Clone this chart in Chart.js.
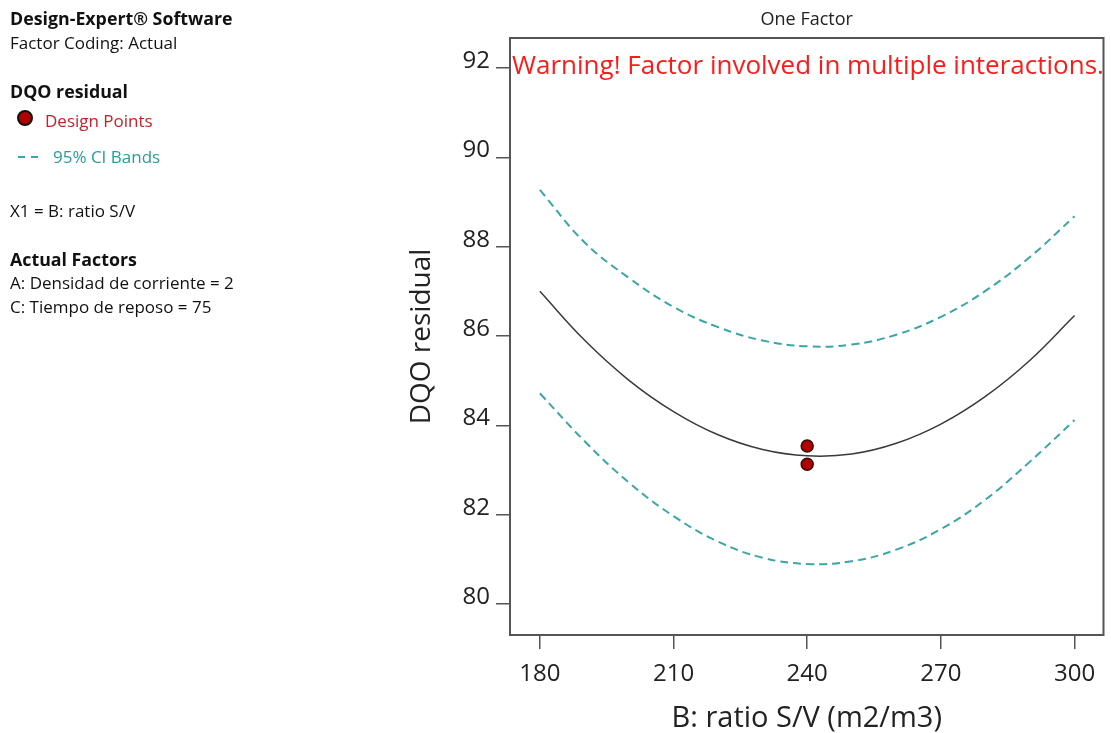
<!DOCTYPE html>
<html>
<head>
<meta charset="utf-8">
<script src="https://cdn.jsdelivr.net/npm/chart.js@4.4.1/dist/chart.umd.min.js"></script>
<style>
  body { margin: 0; background: #fff; font-family: "Open Sans", "Noto Sans", sans-serif; }
  #wrap { position: relative; width: 1111px; height: 733px; }
  #side { position: absolute; left: 10px; top: 0; font-size: 17px; color: #111; }
  #side div { position: absolute; white-space: nowrap; line-height: 20px; }
  .b { font-weight: bold; font-size: 17.8px; }
  .dot { display: inline-block; width: 12px; height: 12px; border-radius: 50%;
         background: #b00000; border: 2px solid #111; }
  .dash { display: inline-block; width: 7px; height: 2px; background: #3aa6a6; margin-right: 6px; vertical-align: middle; }
</style>
</head>
<body>
<div id="wrap">
  <canvas id="chart" width="1111" height="733"></canvas>
  <div id="side">
    <div class="b" style="top:8px">Design-Expert® Software</div>
    <div style="top:33px">Factor Coding: Actual</div>
    <div class="b" style="top:81px">DQO residual</div>
    <div style="top:110px; left:7px"><span class="dot"></span></div>
    <div style="top:111px; left:35px; color:#c8202a">Design Points</div>
    <div style="top:146px; left:8px"><span class="dash"></span><span class="dash"></span></div>
    <div style="top:147px; left:43px; color:#2a9a9a">95% CI Bands</div>
    <div style="top:201px">X1 = B: ratio S/V</div>
    <div class="b" style="top:249px">Actual Factors</div>
    <div style="top:273px">A: Densidad de corriente = 2</div>
    <div style="top:297px">C: Tiempo de reposo = 75</div>
  </div>
</div>
<script>
// valores
const ratioSV = [180, 190, 200, 210, 220, 230, 240, 250, 260, 270, 280, 290, 300];
const dqoFit = [87.00, 85.91, 85.01, 84.31, 83.79, 83.46, 83.32, 83.36, 83.60, 84.03, 84.65, 85.46, 86.46];
const ciUpper = [89.27, 88.10, 87.30, 86.65, 86.20, 85.90, 85.77, 85.81, 86.03, 86.43, 87.01, 87.77, 88.68];
const ciLower = [84.72, 83.65, 82.72, 81.97, 81.40, 81.04, 80.90, 80.96, 81.22, 81.68, 82.34, 83.19, 84.12];
const designX = [240, 240];
const designY = [83.54, 83.13];
const xTicks = [180, 210, 240, 270, 300];
const yTicks = [80, 82, 84, 86, 88, 90, 92];

const pts = (xs, ys) => xs.map((x, i) => ({ x: x, y: ys[i] }));
const teal = "#3aa6a6";
const font = "'Open Sans', 'Noto Sans', sans-serif";

// texto del titulo, aviso y marco
const extras = {
  id: "extras",
  afterDraw(chart) {
    const { ctx, chartArea: a } = chart;
    ctx.save();
    ctx.strokeStyle = "#555";
    ctx.lineWidth = 2;
    ctx.strokeRect(a.left, a.top, a.right - a.left, a.bottom - a.top);
    ctx.fillStyle = "#222";
    ctx.font = "18px " + font;
    ctx.textAlign = "center";
    ctx.textBaseline = "middle";
    ctx.fillText("One Factor", (a.left + a.right) / 2, 20);
    ctx.fillStyle = "#ff1a1a";
    ctx.font = "26px " + font;
    ctx.textAlign = "left";
    ctx.fillText("Warning! Factor involved in multiple interactions.", a.left + 2, 67);
    ctx.restore();
  },
};

new Chart(document.getElementById("chart"), {
  type: "line",
  data: {
    datasets: [
      {
        label: "Design Points",
        type: "scatter",
        data: pts(designX, designY),
        pointRadius: 6,
        pointBackgroundColor: "#b00000",
        pointBorderColor: "#3a0a0a",
        pointBorderWidth: 1.5,
      },
      {
        label: "DQO residual",
        data: pts(ratioSV, dqoFit),
        borderColor: "#3a3a3a",
        borderWidth: 1.5,
        pointRadius: 0,
        tension: 0.4,
      },
      {
        label: "95% CI high",
        data: pts(ratioSV, ciUpper),
        borderColor: teal,
        borderWidth: 2,
        borderDash: [8, 5],
        pointRadius: 0,
        tension: 0.4,
      },
      {
        label: "95% CI low",
        data: pts(ratioSV, ciLower),
        borderColor: teal,
        borderWidth: 2,
        borderDash: [8, 5],
        pointRadius: 0,
        tension: 0.4,
      },
    ],
  },
  options: {
    responsive: false,
    animation: false,
    layout: { padding: { left: 405, top: 38, right: 6, bottom: 0 } },
    plugins: { legend: { display: false }, tooltip: { enabled: false } },
    scales: {
      x: {
        type: "linear",
        min: 173.3,
        max: 306.5,
        afterBuildTicks: (s) => { s.ticks = xTicks.map((v) => ({ value: v })); },
        afterFit: (s) => { s.height = 98; },
        grid: { drawOnChartArea: false, tickLength: 14, color: "#555", lineWidth: 1.5 },
        border: { display: false },
        ticks: { color: "#222", padding: 11, font: { family: font, size: 24 } },
        title: {
          display: true,
          text: "B: ratio S/V (m2/m3)",
          color: "#222",
          padding: 0,
          font: { family: font, size: 29, lineHeight: 1 },
        },
      },
      y: {
        min: 79.31,
        max: 92.67,
        afterBuildTicks: (s) => { s.ticks = yTicks.map((v) => ({ value: v })); },
        afterFit: (s) => { s.width = 105; },
        grid: { drawOnChartArea: false, tickLength: 14, color: "#555", lineWidth: 1.5 },
        border: { display: false },
        ticks: { color: "#222", padding: 6, labelOffset: -7, font: { family: font, size: 24 } },
        title: {
          display: true,
          text: "DQO residual",
          color: "#222",
          padding: 0,
          font: { family: font, size: 28 },
        },
      },
    },
  },
  plugins: [extras],
});
</script>
</body>
</html>
